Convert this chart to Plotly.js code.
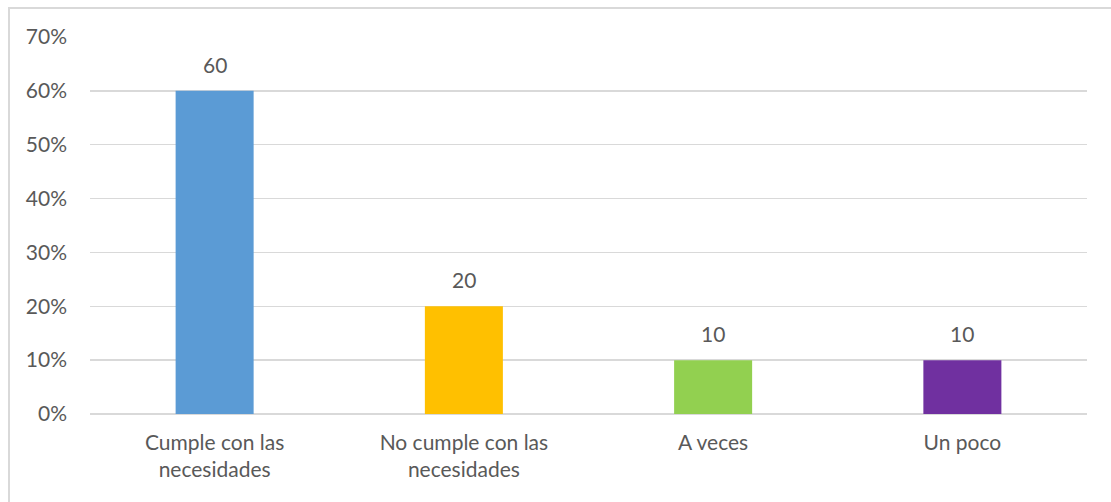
<!DOCTYPE html>
<html>
<head>
<meta charset="utf-8">
<script src="https://cdn.plot.ly/plotly-3.0.1.min.js"></script>
<style>
html,body{margin:0;padding:0;background:#fff;overflow:hidden;}
#frame{position:absolute;left:8px;top:7px;width:1120px;height:520px;border:2px solid #d9d9d9;box-sizing:border-box;}
#chart{position:absolute;left:0;top:0;width:1111px;height:502px;}
</style>
</head>
<body>
<div id="frame"></div>
<div id="chart"></div>
<script>
const categories = ["Cumple con las<br>necesidades", "No cumple con las<br>necesidades", "A veces", "Un poco"];
const values = [0.60, 0.20, 0.10, 0.10];
const labels = ["60", "20", "10", "10"];
const colors = ["#5b9bd5", "#ffc000", "#92d050", "#7030a0"];
const tickVals = [0, 0.1, 0.2, 0.3, 0.4, 0.5, 0.6, 0.7];

const font = {family: "Lato, 'Noto Sans', sans-serif", size: 21, color: "#595959"};

const trace = {
  type: "bar",
  x: categories,
  y: values,
  marker: {color: colors},
  hoverinfo: "none"
};

const annotations = categories.map((c, i) => ({
  x: c, y: values[i], xref: "x", yref: "y",
  text: labels[i], showarrow: false, yanchor: "bottom", yshift: 12,
  font: font
}));

const layout = {
  width: 1111, height: 502,
  margin: {l: 90, r: 24, t: 37, b: 88},
  paper_bgcolor: "rgba(0,0,0,0)",
  plot_bgcolor: "rgba(0,0,0,0)",
  bargap: 0.687,
  showlegend: false,
  font: font,
  xaxis: {
    showgrid: false, showline: false, zeroline: false, ticks: "",
    ticklabelstandoff: 14,
    tickfont: font, fixedrange: true
  },
  yaxis: {
    range: [0, 0.7], tickvals: tickVals, tickformat: ".0%",
    showgrid: true, gridcolor: "#d9d9d9", gridwidth: 1.5,
    zeroline: true, zerolinecolor: "#d9d9d9", zerolinewidth: 1.5,
    showline: false, ticks: "", ticklabelstandoff: 22,
    tickfont: font, fixedrange: true
  },
  annotations: annotations
};

Plotly.newPlot("chart", [trace], layout, {displayModeBar: false, staticPlot: true});
</script>
</body>
</html>
